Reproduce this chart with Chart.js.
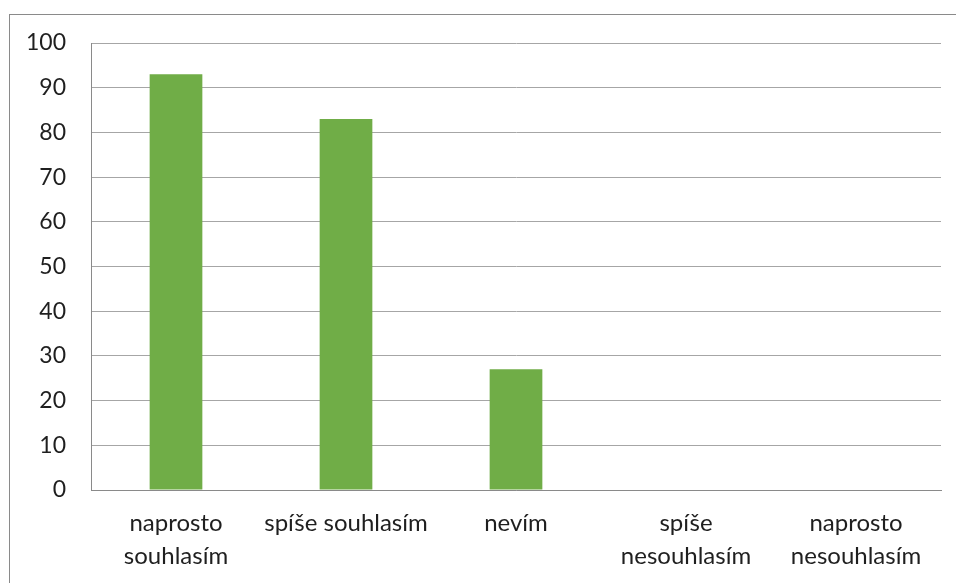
<!DOCTYPE html>
<html><head><meta charset="utf-8">
<script src="https://cdn.jsdelivr.net/npm/chart.js@4/dist/chart.umd.min.js"></script>
<style>html,body{margin:0;padding:0;background:#fff;}#wrap{position:absolute;left:0;top:0;width:956px;height:583px;}</style>
</head><body><div id="wrap"><canvas id="c" width="956" height="583"></canvas></div>
<script>
const categories = [["naprosto","souhlasím"], "spíše souhlasím", "nevím", ["spíše","nesouhlasím"], ["naprosto","nesouhlasím"]];
const values = [93, 83, 27, 0, 0];
const yMin = 0, yMax = 100, yStep = 10;

const borderPlugin = {
  id: 'outerBorder',
  beforeDraw(chart) {
    const ctx = chart.ctx;
    ctx.save();
    ctx.strokeStyle = '#8a8a8a';
    ctx.lineWidth = 1;
    ctx.strokeRect(9.5, 14.5, 1200, 800);
    ctx.restore();
  }
};

new Chart(document.getElementById('c'), {
  type: 'bar',
  data: { labels: categories, datasets: [{ data: values, backgroundColor: '#70AD47', borderWidth: 0, barPercentage: 0.31, categoryPercentage: 1 }] },
  options: {
    responsive: false, animation: false,
    layout: { padding: { left: 0, top: 43, right: 15, bottom: 0 } },
    plugins: { legend: { display: false }, tooltip: { enabled: false } },
    scales: {
      x: {
        grid: { display: false, drawTicks: false },
        border: { display: true, color: '#8a8a8a', width: 1 },
        ticks: { color: '#1f1f1f', font: { family: 'Lato', size: 24, lineHeight: 1.38 }, padding: 17, maxRotation: 0, autoSkip: false },
        afterFit(s) { s.height = 93; }
      },
      y: {
        min: yMin, max: yMax,
        grid: { color: '#a6a6a6', drawTicks: false, lineWidth: 1 },
        border: { display: true, color: '#8a8a8a', width: 1 },
        ticks: { stepSize: yStep, color: '#1f1f1f', font: { family: 'Lato', size: 23 }, padding: 25 },
        afterFit(s) { s.width = 91; }
      }
    }
  },
  plugins: [borderPlugin]
});
</script></body></html>
